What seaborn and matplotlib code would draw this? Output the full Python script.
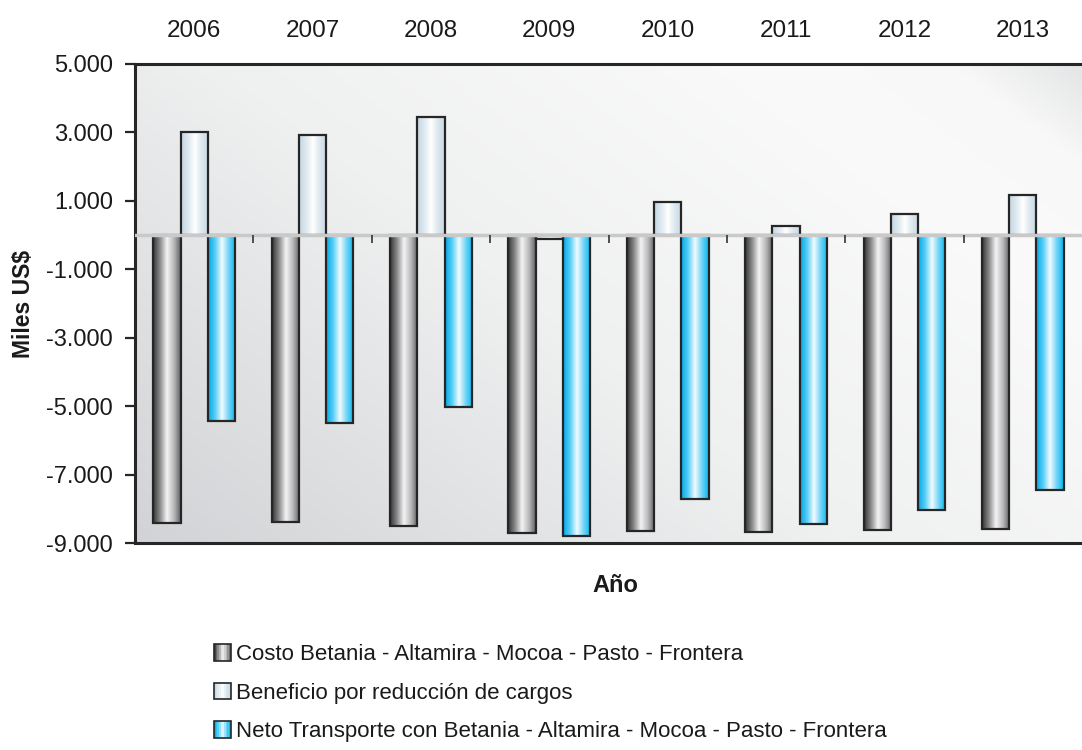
import matplotlib
matplotlib.use("Agg")
import matplotlib.pyplot as plt
import numpy as np
import pandas as pd
import seaborn as sns
from matplotlib.colors import LinearSegmentedColormap
from matplotlib.legend_handler import HandlerBase
from matplotlib.patches import Rectangle
from matplotlib.ticker import FuncFormatter

# data (Miles US$)
years = ["2006", "2007", "2008", "2009", "2010", "2011", "2012", "2013"]
costo = [-8420, -8390, -8500, -8710, -8650, -8680, -8620, -8590]
beneficio = [3010, 2920, 3450, -120, 970, 260, 620, 1170]
neto = [-5440, -5490, -5030, -8810, -7700, -8440, -8040, -7440]
series = [
    "Costo Betania - Altamira - Mocoa - Pasto - Frontera",
    "Beneficio por reducción de cargos",
    "Neto Transporte con Betania - Altamira - Mocoa - Pasto - Frontera",
]

df = pd.DataFrame({
    "year": years * 3,
    "serie": np.repeat(series, len(years)),
    "valor": costo + beneficio + neto,
})

# cylinder-like gradients for each series
cmaps = [
    LinearSegmentedColormap.from_list("costo", ["#333333", "#8a8a8c", "#f4f4f4", "#b9b9bb", "#5e5e60"]),
    LinearSegmentedColormap.from_list("benef", ["#c4d6e2", "#dde8ef", "#ffffff", "#dce7ee", "#c9d9e4"]),
    LinearSegmentedColormap.from_list("neto", ["#00a8e8", "#55cdf5", "#f2fbff", "#6fd4f7", "#00b6ef"]),
]
bg_cmap = LinearSegmentedColormap.from_list(
    "bg", [(0, "#d2d3d6"), (0.45, "#eff0f0"), (0.8, "#fafafa"), (0.92, "#f8f8f8"), (1, "#e4e5e6")])

sns.set_theme(style="white")
plt.rcParams["font.family"] = ["Liberation Sans", "DejaVu Sans"]

fig = plt.figure(figsize=(10.82, 7.5), dpi=100)
ax = fig.add_axes([135 / 1082, 1 - 543 / 750, 1 - 135 / 1082, (543 - 64) / 750])

sns.barplot(data=df, x="year", y="valor", hue="serie", hue_order=series, order=years,
            width=0.69, ax=ax, legend=False, edgecolor="#262626", linewidth=1.6, saturation=1)

grad = np.linspace(0, 1, 256).reshape(1, -1)
for cont, cm in zip(ax.containers, cmaps):
    for bar in cont:
        x0, y0 = bar.get_x(), bar.get_y()
        x1, y1 = x0 + bar.get_width(), y0 + bar.get_height()
        bar.set_facecolor("none")
        bar.set_zorder(4)
        im = ax.imshow(grad, cmap=cm, extent=[x0, x1, min(y0, y1), max(y0, y1)],
                       aspect="auto", zorder=3, interpolation="bilinear")
        im.set_clip_path(bar)

# plot area background
xx, yy = np.meshgrid(np.linspace(0, 1, 300), np.linspace(1, 0, 200))
ax.imshow(0.6 * xx + 0.4 * yy, cmap=bg_cmap, extent=[0, 1, 0, 1], transform=ax.transAxes,
          aspect="auto", zorder=0, interpolation="bilinear")

ax.axhline(0, color="#c9c9c9", lw=2.5, zorder=5)
ax.vlines(np.arange(0.5, len(years) - 1), -230, 0, color="#333333", lw=1.2, zorder=5)

ax.set_xlim(-0.5, len(years) - 0.5)
ax.set_ylim(-9000, 5000)
ax.set_yticks(np.arange(-9000, 5001, 2000))
ax.yaxis.set_major_formatter(FuncFormatter(lambda v, p: f"{v:,.0f}".replace(",", ".")))

ax.xaxis.tick_top()
ax.tick_params(axis="x", length=0, pad=16, labelsize=17.5, colors="#1a1a1a")
ax.tick_params(axis="y", left=True, length=7, width=1.6, color="#262626", pad=9,
               labelsize=17, labelcolor="#1a1a1a")
ax.set_xlabel("")
ax.set_ylabel("")

for side in ["left", "top", "bottom"]:
    ax.spines[side].set_color("#262626")
    ax.spines[side].set_linewidth(2.2)
ax.spines["right"].set_visible(False)

fig.text(24 / 1082, 1 - 304 / 750, "Miles US$", rotation=90, ha="center", va="center",
         fontsize=16.5, fontweight="bold", color="#1a1a1a")
fig.text(615 / 1082, 1 - 586 / 750, "Año", ha="center", va="center",
         fontsize=17, fontweight="bold", color="#1a1a1a")


class GradHandler(HandlerBase):
    def __init__(self, cmap):
        super().__init__()
        self.cmap = cmap

    def create_artists(self, legend, orig_handle, xdescent, ydescent, width, height, fontsize, trans):
        n = 10
        x0, y0 = -xdescent, -ydescent
        arts = []
        for i in range(n):
            arts.append(Rectangle((x0 + i * width / n, y0), width / n, height,
                                  facecolor=self.cmap((i + 0.5) / n), edgecolor="none", transform=trans))
        arts.append(Rectangle((x0, y0), width, height, facecolor="none",
                              edgecolor="#262626", lw=1.2, transform=trans))
        return arts


handles = [Rectangle((0, 0), 1, 1) for _ in series]
fig.legend(handles, series, handler_map={h: GradHandler(c) for h, c in zip(handles, cmaps)},
           loc="upper left", bbox_to_anchor=(203 / 1082, 1 - 633 / 750), frameon=False,
           fontsize=16, handlelength=0.75, handleheight=0.75, handletextpad=0.25,
           labelspacing=0.79, borderpad=0, labelcolor="#1a1a1a")

fig.savefig("out.png", dpi=100)
